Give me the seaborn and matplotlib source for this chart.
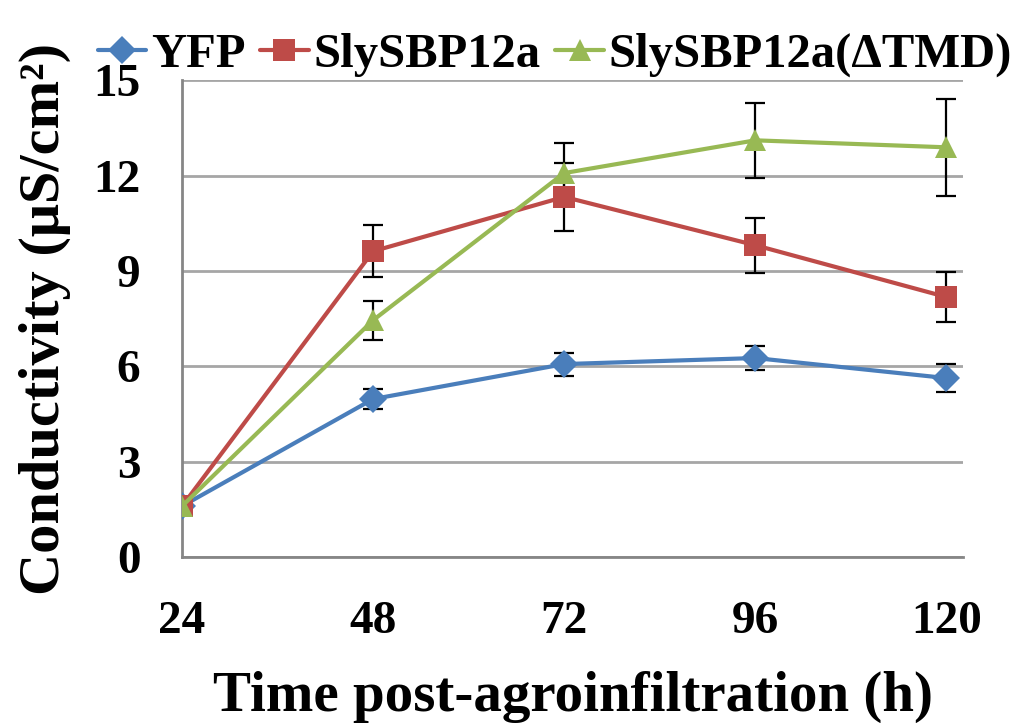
import seaborn as sns
import matplotlib.pyplot as plt
import pandas as pd
import numpy as np

times = [24, 48, 72, 96, 120]
series_names = ["YFP", "SlySBP12a", "SlySBP12a(ΔTMD)"]
yfp = [1.6, 4.97, 6.07, 6.26, 5.63]
yfp_err = [0.0, 0.32, 0.36, 0.37, 0.43]
sbp = [1.6, 9.62, 11.33, 9.81, 8.18]
sbp_err = [0.0, 0.82, 1.07, 0.87, 0.80]
dtmd = [1.6, 7.45, 12.08, 13.11, 12.89]
dtmd_err = [0.0, 0.62, 0.94, 1.17, 1.52]

colors = ["#4A7EBB", "#BE4B48", "#98B954"]
markers = ["D", "s", "^"]

df = pd.DataFrame({
    "time": times * 3,
    "value": yfp + sbp + dtmd,
    "err": yfp_err + sbp_err + dtmd_err,
    "series": np.repeat(series_names, len(times)),
})

sns.set_style("white")
plt.rcParams["font.family"] = ["Liberation Serif", "DejaVu Serif"]
plt.rcParams["font.weight"] = "bold"
plt.rcParams["text.color"] = "black"
plt.rcParams["axes.labelcolor"] = "black"
plt.rcParams["xtick.color"] = "black"
plt.rcParams["ytick.color"] = "black"

fig = plt.figure(figsize=(10.18, 7.23), dpi=100)
ax = fig.add_axes([0.1788, 0.2296, 0.946 - 0.1788, 0.889 - 0.2296])

# error bars first so markers sit on top
for name in series_names:
    d = df[df["series"] == name]
    ax.errorbar(d["time"], d["value"], yerr=d["err"], fmt="none",
                ecolor="black", elinewidth=1.6, capsize=7, capthick=1.6, zorder=2)

sns.lineplot(data=df, x="time", y="value", hue="series", style="series",
             hue_order=series_names, style_order=series_names,
             palette=colors, markers=markers, dashes=False, linewidth=3,
             markersize=16, markeredgewidth=0, ax=ax, zorder=3)
for ln in ax.lines:
    if ln.get_marker() == "D":
        ln.set_markersize(14)

ax.set_xlim(24, 122.1)
ax.set_ylim(0, 15)
ax.set_xticks(times)
ax.set_yticks([0, 3, 6, 9, 12, 15])
ax.tick_params(axis="both", labelsize=34, labelcolor="black")
ax.tick_params(axis="y", length=0, pad=30)
ax.tick_params(axis="x", direction="out", length=10, width=2, color="#868686", pad=22)
for lab in ax.get_xticklabels() + ax.get_yticklabels():
    lab.set_fontweight("bold")
ax.yaxis.grid(True, color="#A6A6A6", linewidth=2)
ax.set_axisbelow(True)
for s in ["top", "right"]:
    ax.spines[s].set_visible(False)
for s in ["left", "bottom"]:
    ax.spines[s].set_color("#868686")
    ax.spines[s].set_linewidth(2)

ax.set_xlabel("Time post-agroinfiltration (h)", fontsize=41, fontweight="bold", labelpad=20)
ax.set_ylabel("Conductivity (μS/cm²)", fontsize=42, fontweight="bold", labelpad=16)

handles, labels = ax.get_legend_handles_labels()
ax.legend(handles, labels, loc="upper center", bbox_to_anchor=(0.545, 1.015),
          bbox_transform=fig.transFigure, ncol=3, frameon=False,
          handlelength=1.0, handletextpad=0.1, columnspacing=0.3,
          prop={"weight": "bold", "size": 35})

fig.savefig("out.png", dpi=100)
